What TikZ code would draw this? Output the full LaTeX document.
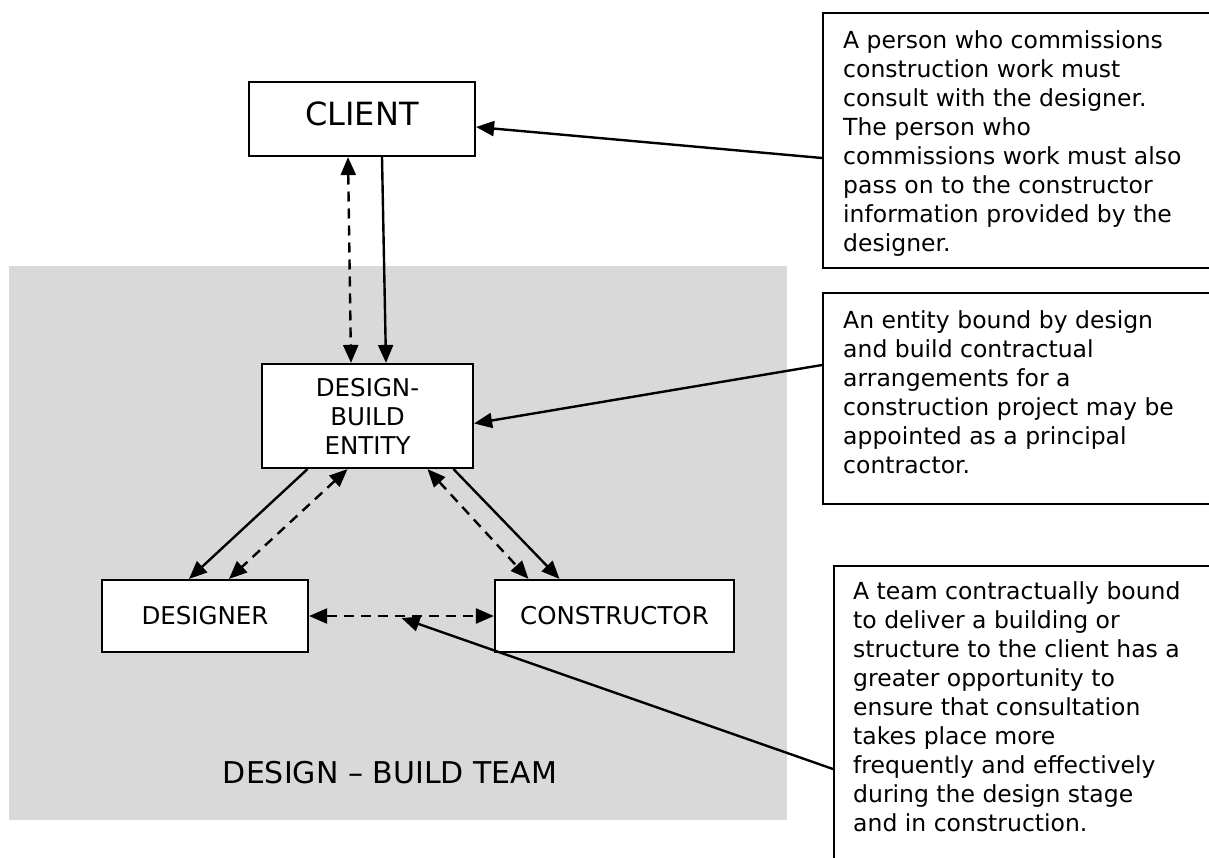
\documentclass[tikz,border=0pt]{standalone}
\usepackage{fontspec}
\setmainfont{DejaVu Sans}
\usetikzlibrary{arrows.meta,calc}
\definecolor{teamgrey}{HTML}{D9D9D9}
\tikzset{
  box/.style={draw, fill=white, line width=2.2pt, inner sep=0pt, align=center,
    font=\fontsize{24.5}{29}\selectfont},
  link/.style={line width=2.4pt, -{Triangle[length=18pt,width=15pt]}},
  twoway/.style={line width=2.4pt, dash pattern=on 10pt off 7pt,
    {Triangle[length=18pt,width=15pt]}-{Triangle[length=18pt,width=15pt]}},
  notebox/.style={draw, line width=2.2pt, inner sep=0pt, anchor=north west, minimum width=400pt},
  notetext/.style={anchor=north west, inner sep=0pt, align=left,
    font=\fontsize{23.5}{29}\selectfont}
}

\begin{document}
\begin{tikzpicture}[x=1pt, y=-1pt]
        \useasboundingbox (0,0) rectangle (1209,857);
        % design-build team area
        \fill[teamgrey] (9,266) rectangle (787,820);
        \node[anchor=base, inner sep=0pt, font=\fontsize{30}{36}\selectfont] (teamlabel) at (390,783) {DESIGN -- BUILD TEAM};

        % parties
        \node[box, minimum width=226pt, minimum height=74pt, text depth=10pt,
          font=\fontsize{32}{38}\selectfont] (client) at (362,119) {CLIENT};
        \node[box, minimum width=211pt, minimum height=104pt] (dbe) at (367.5,416) {DESIGN-\\BUILD\\ENTITY};
        \node[box, minimum width=206pt, minimum height=72pt] (designer) at (205,616) {DESIGNER};
        \node[box, minimum width=239pt, minimum height=72pt] (constructor) at (614.5,616) {CONSTRUCTOR};

        % notes
        \node[notebox, minimum height=255pt] (noteclient) at (822,12) {};
        \node[notetext] (clienttext) at (843,30) {A person who commissions\\construction work must\\consult with the designer.\\The person who\\commissions work must also\\pass on to the constructor\\information provided by the\\designer.};
        \node[notebox, minimum height=211pt] (noteentity) at (822,292) {};
        \node[notetext] (entitytext) at (843,310) {An entity bound by design\\and build contractual\\arrangements for a\\construction project may be\\appointed as a principal\\contractor.};
        \node[notebox, minimum height=310pt] (noteteam) at (833,565) {};
        \node[notetext] (teamtext) at (853,581) {A team contractually bound\\to deliver a building or\\structure to the client has a\\greater opportunity to\\ensure that consultation\\takes place more\\frequently and effectively\\during the design stage\\and in construction.};

        % links between parties
        \draw[twoway] ([xshift=-14pt]client.south) -- ([xshift=-16.5pt]dbe.north);
        \draw[link] ([xshift=20pt]client.south) -- ([xshift=18.5pt]dbe.north);
        \draw[link] ([xshift=-60pt]dbe.south) -- ([xshift=-16pt]designer.north);
        \draw[twoway] ([xshift=-20pt]dbe.south) -- ([xshift=24pt]designer.north);
        \draw[twoway] ([xshift=60pt]dbe.south) -- ([xshift=-86pt]constructor.north);
        \draw[link] ([xshift=86pt]dbe.south) -- ([xshift=-55pt]constructor.north);
        \draw[twoway] (designer.east) -- (constructor.west);

        % notes to diagram
        \coordinate (fromclient) at (822,158);
        \coordinate (fromentity) at (822,365);
        \coordinate (fromteam) at (833,769);
        \draw[link] (fromclient) -- (client.-4.5);
        \draw[link] (fromentity) -- (dbe.-4);
        \draw[link] (fromteam) -- ($(designer.east)!0.5!(constructor.west)+(0,2)$);
\end{tikzpicture}
\end{document}
